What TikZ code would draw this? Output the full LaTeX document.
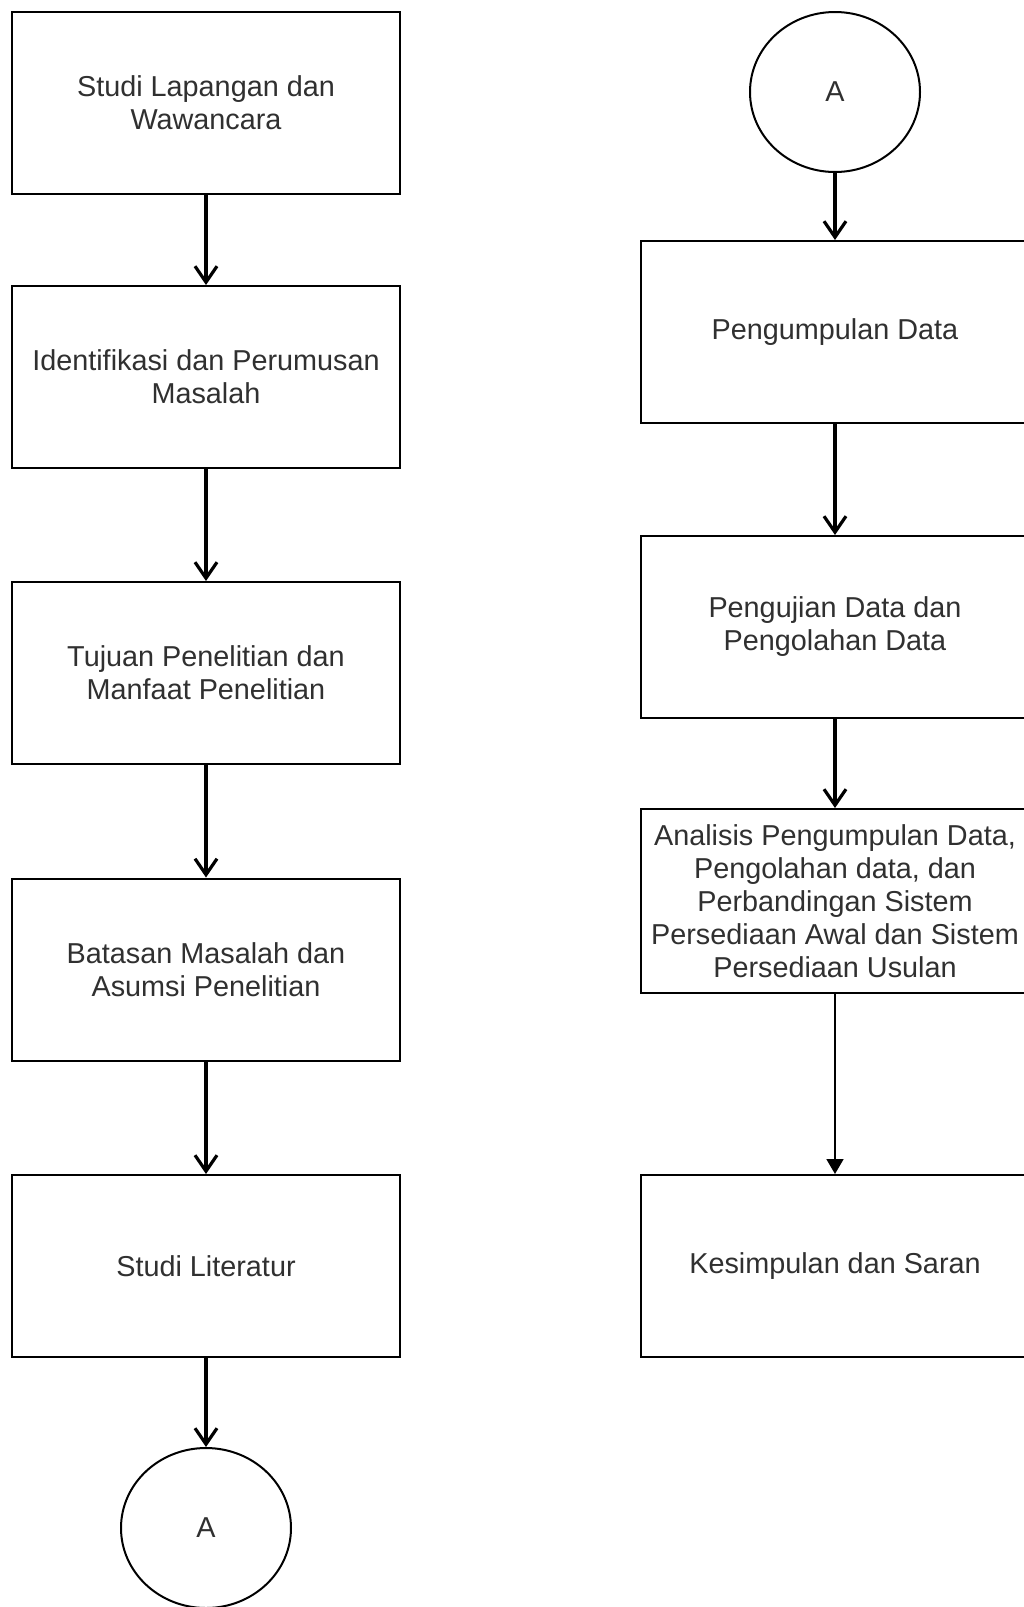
\documentclass[tikz,border=0pt]{standalone}
\usepackage{fontspec}
\setmainfont{Liberation Sans}
\usetikzlibrary{arrows.meta,shapes.geometric}
\definecolor{txt}{HTML}{303030}
\tikzset{
  box/.style={draw=black, line width=2pt, minimum width=388pt, minimum height=182pt,
    inner sep=0pt, align=center, text=txt, font=\fontsize{28.8}{33}\selectfont},
  conn/.style={draw=black, line width=2pt, ellipse, minimum width=170pt, minimum height=160pt,
    inner sep=0pt, text=txt, font=\fontsize{28.8}{33}\selectfont},
  flow/.style={line width=3.2pt, -{Straight Barb[length=16pt,width=22pt,line width=3.2pt]}},
  thinflow/.style={line width=1.8pt, -{Triangle[length=15pt,width=17pt]}}
}
\begin{document}
\begin{tikzpicture}[x=1pt,y=-1pt]
\useasboundingbox (0,0) rectangle (1024,1607);
\clip (0,0) rectangle (1024,1607);
\fill[white] (0,0) rectangle (1024,1607);
% left column
\node[box] (l1) at (206,103) {Studi Lapangan dan\\Wawancara};
\node[box] (l2) at (206,377) {Identifikasi dan Perumusan\\Masalah};
\node[box] (l3) at (206,673) {Tujuan Penelitian dan\\Manfaat Penelitian};
\node[box] (l4) at (206,969.5) {Batasan Masalah dan\\Asumsi Penelitian};
\node[box] (l5) at (206,1266) {Studi Literatur};
\node[conn] (la) at (206,1528) {A};
% right column
\node[conn] (ra) at (835,92) {A};
\node[box] (r1) at (835,332) {Pengumpulan Data};
\node[box] (r2) at (835,627) {Pengujian Data dan\\Pengolahan Data};
\node[box, minimum height=184pt] (r3) at (835,901) {Analisis Pengumpulan Data,\\Pengolahan data, dan\\Perbandingan Sistem\\Persediaan Awal dan Sistem\\Persediaan Usulan};
\node[box] (r4) at (835,1266) {Kesimpulan dan Saran};
% connectors
\draw[flow] (l1.south) -- (l2.north);
\draw[flow] (l2.south) -- (l3.north);
\draw[flow] (l3.south) -- (l4.north);
\draw[flow] (l4.south) -- (l5.north);
\draw[flow] (l5.south) -- (la.north);
\draw[flow] (ra.south) -- (r1.north);
\draw[flow] (r1.south) -- (r2.north);
\draw[flow] (r2.south) -- (r3.north);
\draw[thinflow] (r3.south) -- (r4.north);
\end{tikzpicture}
\end{document}
